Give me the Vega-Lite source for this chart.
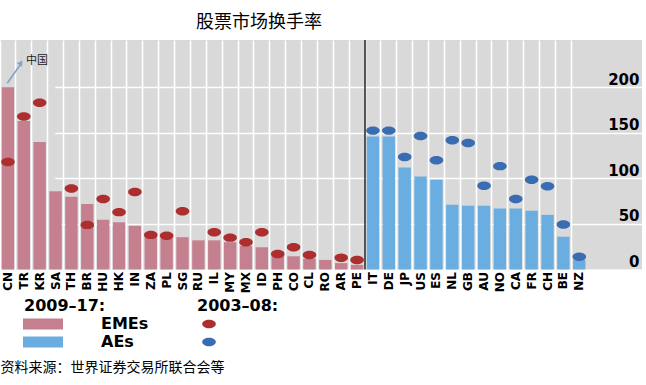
{
  "$schema": "https://vega.github.io/schema/vega-lite/v6.json",
  "width": 642,
  "height": 229.5,
  "autosize": {"type": "none"},
  "padding": {"left": 0, "top": 40, "right": 4, "bottom": 115.5},
  "background": "white",
  "title": {"text": "股票市场换手率", "anchor": "start", "dx": 196, "offset": 7, "font": "Noto Sans CJK SC", "fontSize": 18, "fontWeight": "normal", "color": "#000"},
  "config": {"view": {"fill": "#d9d9d9", "stroke": null}},
  "data": {"values": [
    {"country": "CN", "group": "EMEs", "t0917": 200, "t0308": 118},
    {"country": "TR", "group": "EMEs", "t0917": 163, "t0308": 168},
    {"country": "KR", "group": "EMEs", "t0917": 140, "t0308": 183},
    {"country": "SA", "group": "EMEs", "t0917": 86, "t0308": null},
    {"country": "TH", "group": "EMEs", "t0917": 80, "t0308": 89},
    {"country": "BR", "group": "EMEs", "t0917": 72, "t0308": 49},
    {"country": "HU", "group": "EMEs", "t0917": 54.5, "t0308": 77.5},
    {"country": "HK", "group": "EMEs", "t0917": 52, "t0308": 63},
    {"country": "IN", "group": "EMEs", "t0917": 48, "t0308": 85},
    {"country": "ZA", "group": "EMEs", "t0917": 36, "t0308": 38},
    {"country": "PL", "group": "EMEs", "t0917": 34.5, "t0308": 37},
    {"country": "SG", "group": "EMEs", "t0917": 35.5, "t0308": 64},
    {"country": "RU", "group": "EMEs", "t0917": 32, "t0308": null},
    {"country": "IL", "group": "EMEs", "t0917": 32, "t0308": 41},
    {"country": "MY", "group": "EMEs", "t0917": 30, "t0308": 35},
    {"country": "MX", "group": "EMEs", "t0917": 26, "t0308": 30},
    {"country": "ID", "group": "EMEs", "t0917": 24.5, "t0308": 41},
    {"country": "PH", "group": "EMEs", "t0917": 15, "t0308": 17},
    {"country": "CO", "group": "EMEs", "t0917": 14.5, "t0308": 24.5},
    {"country": "CL", "group": "EMEs", "t0917": 12, "t0308": 16},
    {"country": "RO", "group": "EMEs", "t0917": 10.5, "t0308": null},
    {"country": "AR", "group": "EMEs", "t0917": 7, "t0308": 13},
    {"country": "PE", "group": "EMEs", "t0917": 5, "t0308": 10.5},
    {"country": "IT", "group": "AEs", "t0917": 146, "t0308": 152.5},
    {"country": "DE", "group": "AEs", "t0917": 146, "t0308": 152.5},
    {"country": "JP", "group": "AEs", "t0917": 112, "t0308": 123.5},
    {"country": "US", "group": "AEs", "t0917": 102, "t0308": 146.5},
    {"country": "ES", "group": "AEs", "t0917": 98.5, "t0308": 120},
    {"country": "NL", "group": "AEs", "t0917": 71, "t0308": 142},
    {"country": "GB", "group": "AEs", "t0917": 70, "t0308": 139},
    {"country": "AU", "group": "AEs", "t0917": 70, "t0308": 92},
    {"country": "NO", "group": "AEs", "t0917": 67, "t0308": 113.5},
    {"country": "CA", "group": "AEs", "t0917": 67, "t0308": 77.5},
    {"country": "FR", "group": "AEs", "t0917": 64.5, "t0308": 98.5},
    {"country": "CH", "group": "AEs", "t0917": 60, "t0308": 91.5},
    {"country": "BE", "group": "AEs", "t0917": 36, "t0308": 49.5},
    {"country": "NZ", "group": "AEs", "t0917": 11, "t0308": 14}
  ]},
  "layer": [
    {
      "mark": {"type": "bar", "width": {"band": 0.78}},
      "encoding": {
        "x": {"field": "country", "type": "nominal", "sort": null,
          "scale": {"domain": ["CN","TR","KR","SA","TH","BR","HU","HK","IN","ZA","PL","SG","RU","IL","MY","MX","ID","PH","CO","CL","RO","AR","PE","IT","DE","JP","US","ES","NL","GB","AU","NO","CA","FR","CH","BE","NZ"], "range": [0, 587.2], "paddingInner": 0, "paddingOuter": 0},
          "axis": {"title": "资料来源：世界证券交易所联合会等", "titleFont": "Noto Sans CJK SC", "titleFontSize": 14, "titleFontWeight": "normal", "titleColor": "#000", "titleAnchor": "start", "titleAlign": "left", "titleX": 0, "titleY": 98, "titleBaseline": "middle",
            "labelAngle": -90, "labelAlign": "right", "labelBaseline": "middle", "labelFont": "DejaVu Sans", "labelFontWeight": "bold", "labelFontSize": 12, "labelColor": "#000", "labelPadding": 2,
            "domain": false, "ticks": false, "grid": true, "gridColor": "#ffffff", "gridOpacity": 1, "gridWidth": 1.6, "bandPosition": 0}},
        "y": {"field": "t0917", "type": "quantitative",
          "scale": {"domain": [0, 252], "nice": false},
          "axis": {"orient": "right", "values": [0, 50, 100, 150, 200], "title": null, "grid": true, "gridColor": "#ffffff", "gridOpacity": 1, "gridWidth": 1.6, "domain": false, "ticks": false,
            "labelPadding": -3, "labelAlign": "right", "labelBaseline": "alphabetic", "labelOffset": -3, "labelFont": "DejaVu Sans", "labelFontWeight": "bold", "labelFontSize": 15, "labelColor": "#000"}},
        "color": {"field": "group", "type": "nominal",
          "scale": {"domain": ["EMEs", "AEs"], "range": ["#c4808f", "#6aade0"]},
          "legend": {"title": "2009–17:", "orient": "none", "legendX": 24, "legendY": 258, "direction": "vertical", "padding": 0,
            "titleFont": "DejaVu Sans", "titleFontSize": 16, "titleFontWeight": "bold", "titleColor": "#000", "titlePadding": 2, "titleAnchor": "start",
            "labelFont": "DejaVu Sans", "labelFontSize": 16, "labelFontWeight": "bold", "labelColor": "#000", "labelOffset": 50,
            "symbolType": "M-4,-1.1H4V1.1H-4Z", "symbolSize": 100, "symbolOffset": 11, "symbolStrokeWidth": 0, "symbolOpacity": 1, "rowPadding": 2}}
      }
    },
    {
      "mark": {"type": "point", "filled": true, "opacity": 1, "size": 185, "shape": "M-1,0A1,0.62 0 1,1 1,0A1,0.62 0 1,1 -1,0Z"},
      "encoding": {
        "x": {"field": "country", "type": "nominal", "sort": null},
        "y": {"field": "t0308", "type": "quantitative"},
        "color": {"field": "group", "type": "nominal",
          "scale": {"domain": ["EMEs", "AEs"], "range": ["#ad2e2e", "#3a6cb2"]},
          "legend": {"title": "2003–08:", "orient": "none", "legendX": 197, "legendY": 258, "direction": "vertical", "padding": 0,
            "titleFont": "DejaVu Sans", "titleFontSize": 16, "titleFontWeight": "bold", "titleColor": "#000", "titlePadding": 2, "titleAnchor": "start",
            "labelFont": "DejaVu Sans", "labelFontSize": 16, "labelFontWeight": "bold", "labelOpacity": 0,
            "symbolType": "M-1,0A1,0.62 0 1,1 1,0A1,0.62 0 1,1 -1,0Z", "symbolSize": 185, "symbolOffset": 4, "symbolStrokeWidth": 0, "symbolOpacity": 1, "rowPadding": 2}}
      }
    },
    {
      "data": {"values": [{"country": "IT"}]},
      "mark": {"type": "rule", "color": "#000", "strokeWidth": 1.3},
      "encoding": {"x": {"field": "country", "type": "nominal", "bandPosition": 0}}
    },
    {
      "data": {"values": [{}]},
      "mark": {"type": "rule", "color": "#7fa3cc", "strokeWidth": 1.6},
      "encoding": {
        "x": {"datum": "CN", "type": "nominal", "bandPosition": 0.46},
        "x2": {"datum": "TR", "bandPosition": 0.32},
        "y": {"datum": 204.5, "type": "quantitative"},
        "y2": {"datum": 226}
      }
    },
    {
      "data": {"values": [{}]},
      "mark": {"type": "point", "shape": "triangle-up", "filled": true, "opacity": 1, "color": "#7fa3cc", "size": 40, "angle": 34},
      "encoding": {
        "x": {"datum": "TR", "type": "nominal", "bandPosition": 0.32},
        "y": {"datum": 227, "type": "quantitative"}
      }
    },
    {
      "data": {"values": [{}]},
      "mark": {"type": "text", "text": "中国", "font": "Noto Sans CJK SC", "fontSize": 11, "align": "left", "baseline": "middle", "color": "#222"},
      "encoding": {
        "x": {"datum": "TR", "type": "nominal", "bandPosition": 0.64},
        "y": {"datum": 229, "type": "quantitative"}
      }
    }
  ],
  "resolve": {"scale": {"color": "independent"}, "legend": {"color": "independent"}}
}
